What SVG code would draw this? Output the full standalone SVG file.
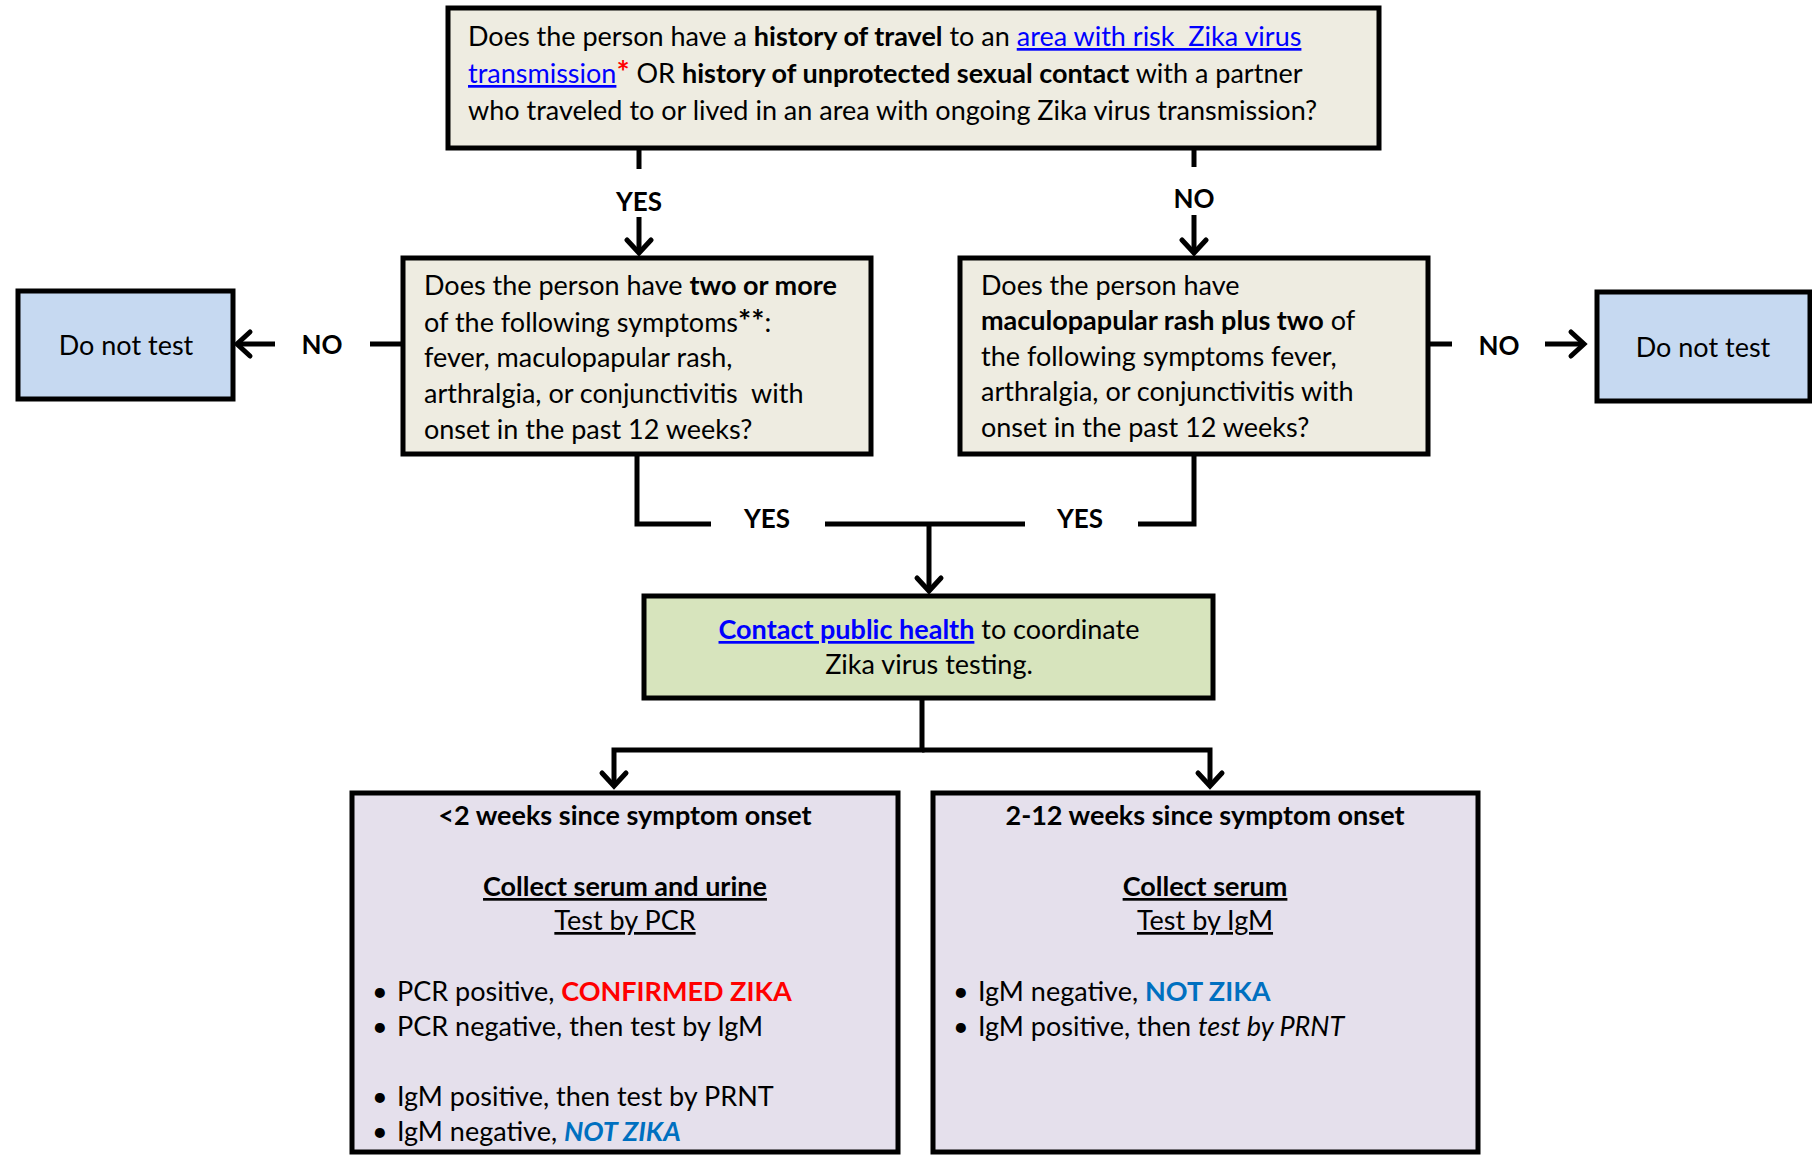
<svg xmlns="http://www.w3.org/2000/svg" width="1812" height="1156" viewBox="0 0 1812 1156">
<defs>
<style>
text{font-family:Lato,"Liberation Sans",sans-serif;fill:#000;white-space:pre}
.t{font-size:27px}
.b{font-weight:bold}
.lnk{fill:#0000ff;text-decoration:underline}
.u{text-decoration:underline}
.lab{font-size:26px;font-weight:bold;text-anchor:middle}
.box{stroke:#000;stroke-width:5}
.q{fill:#eeece1}
.dn{fill:#c6d9f1}
.gr{fill:#d7e4bd}
.pu{fill:#e5e0ec}
.c{fill:none;stroke:#000;stroke-width:5}
.red{fill:#ff0000}
.ast{font-size:31px}
.nz{fill:#0070c0;font-weight:bold}
.mid{text-anchor:middle}
</style>
<marker id="ah" viewBox="-18 -16 22 32" refX="0" refY="0" markerWidth="22" markerHeight="32" markerUnits="userSpaceOnUse" orient="auto">
<path d="M-13,-12 L0,0 L-13,12" fill="none" stroke="#000" stroke-width="5" stroke-linecap="round" stroke-linejoin="miter"/>
</marker>
</defs>
<rect width="1812" height="1156" fill="#fff"/>

<g id="connectors">
<path class="c" d="M639,148 V169"/>
<path class="c" d="M639,217 V253" marker-end="url(#ah)"/>
<path class="c" d="M1194,148 V167"/>
<path class="c" d="M1194,215 V253" marker-end="url(#ah)"/>
<path class="c" d="M403,344 H370"/>
<path class="c" d="M275,344 H237" marker-end="url(#ah)"/>
<path class="c" d="M1428,344 H1452"/>
<path class="c" d="M1545,344 H1584" marker-end="url(#ah)"/>
<path class="c" d="M637,454 V524 H711"/>
<path class="c" d="M825,524 H1025"/>
<path class="c" d="M1138,524 H1194 V454"/>
<path class="c" d="M929,524 V591" marker-end="url(#ah)"/>
<path class="c" d="M922,698 V750 H614 V786" marker-end="url(#ah)"/>
<path class="c" d="M922,750 H1210 V786" marker-end="url(#ah)"/>
<text class="lab" x="639" y="211">YES</text>
<text class="lab" x="1194" y="208">NO</text>
<text class="lab" x="322" y="354">NO</text>
<text class="lab" x="1499" y="355">NO</text>
<text class="lab" x="767" y="528">YES</text>
<text class="lab" x="1080" y="528">YES</text>
</g>

<g id="q1">
<rect class="box q" x="448" y="8" width="931" height="140"/>
<text class="t" x="468" y="46">Does the person have a <tspan class="b">history of travel</tspan> to an <tspan class="lnk">area with risk  Zika virus</tspan></text>
<text class="t" x="468" y="83"><tspan class="lnk">transmission</tspan><tspan class="b red ast">*</tspan> OR <tspan class="b">history of unprotected sexual contact</tspan> with a partner</text>
<text class="t" x="468" y="120">who traveled to or lived in an area with ongoing Zika virus transmission?</text>
</g>

<g id="q2">
<rect class="box q" x="403" y="258" width="468" height="196"/>
<text class="t" x="424" y="295">Does the person have <tspan class="b">two or more</tspan></text>
<text class="t" x="424" y="332">of the following symptoms<tspan class="b ast">**</tspan>:</text>
<text class="t" x="424" y="367">fever, maculopapular rash,</text>
<text class="t" x="424" y="403">arthralgia, or conjunctivitis  with</text>
<text class="t" x="424" y="439">onset in the past 12 weeks?</text>
</g>

<g id="q3">
<rect class="box q" x="960" y="258" width="468" height="196"/>
<text class="t" x="981" y="295">Does the person have</text>
<text class="t" x="981" y="330"><tspan class="b">maculopapular rash plus two</tspan> of</text>
<text class="t" x="981" y="366">the following symptoms fever,</text>
<text class="t" x="981" y="401">arthralgia, or conjunctivitis with</text>
<text class="t" x="981" y="437">onset in the past 12 weeks?</text>
</g>

<g id="dnt1">
<rect class="box dn" x="18" y="291" width="215" height="108"/>
<text class="t mid" x="126" y="355">Do not test</text>
</g>

<g id="dnt2">
<rect class="box dn" x="1597" y="292" width="213" height="109"/>
<text class="t mid" x="1703" y="357">Do not test</text>
</g>

<g id="contact">
<rect class="box gr" x="644" y="596" width="569" height="102"/>
<text class="t mid" x="929" y="639"><tspan class="b lnk">Contact public health</tspan> to coordinate</text>
<text class="t mid" x="929" y="674">Zika virus testing.</text>
</g>

<g id="early">
<rect class="box pu" x="352" y="793" width="546" height="359"/>
<text class="t b mid" x="625" y="825">&lt;2 weeks since symptom onset</text>
<text class="t b u mid" x="625" y="896">Collect serum and urine</text>
<text class="t u mid" x="625" y="930">Test by PCR</text>
<text class="t" x="372" y="1001">•</text>
<text class="t" x="397" y="1001">PCR positive, <tspan class="b red">CONFIRMED ZIKA</tspan></text>
<text class="t" x="372" y="1036">•</text>
<text class="t" x="397" y="1036">PCR negative, then test by IgM</text>
<text class="t" x="372" y="1106">•</text>
<text class="t" x="397" y="1106">IgM positive, then test by PRNT</text>
<text class="t" x="372" y="1141">•</text>
<text class="t" x="397" y="1141">IgM negative, <tspan class="nz" font-style="italic">NOT ZIKA</tspan></text>
</g>

<g id="late">
<rect class="box pu" x="933" y="793" width="545" height="359"/>
<text class="t b mid" x="1205" y="825">2-12 weeks since symptom onset</text>
<text class="t b u mid" x="1205" y="896">Collect serum</text>
<text class="t u mid" x="1205" y="930">Test by IgM</text>
<text class="t" x="953" y="1001">•</text>
<text class="t" x="978" y="1001">IgM negative, <tspan class="nz">NOT ZIKA</tspan></text>
<text class="t" x="953" y="1036">•</text>
<text class="t" x="978" y="1036">IgM positive, then <tspan font-style="italic">test by PRNT</tspan></text>
</g>
</svg>
